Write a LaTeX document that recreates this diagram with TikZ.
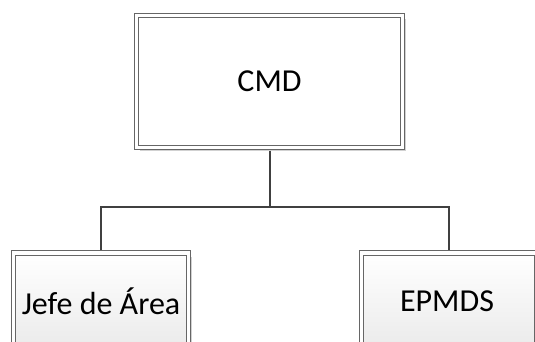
\documentclass[tikz,border=0pt]{standalone}
\usepackage{fontspec}
\setmainfont{Carlito}
\usetikzlibrary{shadows}
\tikzset{
    BX1/.style ={rectangle, draw=black!60, double=white, double distance=3.6pt, line width=0.9pt,
        fill=white, minimum width=266pt, minimum height=132pt,
        drop shadow={shadow xshift=3.5pt, shadow yshift=-3.5pt, fill=black!18, opacity=1},
        font=\fontsize{32}{38}\selectfont},
    BX2/.style ={rectangle, draw=black!60, double=white, double distance=3.6pt, line width=0.9pt,
        top color=white, bottom color=black!8, minimum width=175pt, minimum height=96pt,
        drop shadow={shadow xshift=3.5pt, shadow yshift=-3.5pt, fill=black!18, opacity=1},
        font=\fontsize{32}{38}\selectfont},
    LN/.style ={draw=black!75, line width=2pt}}

\begin{document}
\begin{tikzpicture}[x=1pt,y=1pt]
        \useasboundingbox (0,0) rectangle (535,341);
        \clip (0,0) rectangle (535,341);
        \node[BX1] (cmd) at(269.5,259.5){CMD};
        \node[BX2] (jefe) at(101,40){Jefe de Área};
        \node[BX2] (epmds) at(449,40){\hspace*{-4pt}EPMDS};
        \coordinate (split) at(269.5,134);
        \draw[LN] ([yshift=-2.7pt]cmd.south) --(split);
        \draw[LN] (split) -| ([yshift=2.7pt]jefe.north);
        \draw[LN] (split) -| ([yshift=2.7pt]epmds.north);
    \end{tikzpicture}
\end{document}
